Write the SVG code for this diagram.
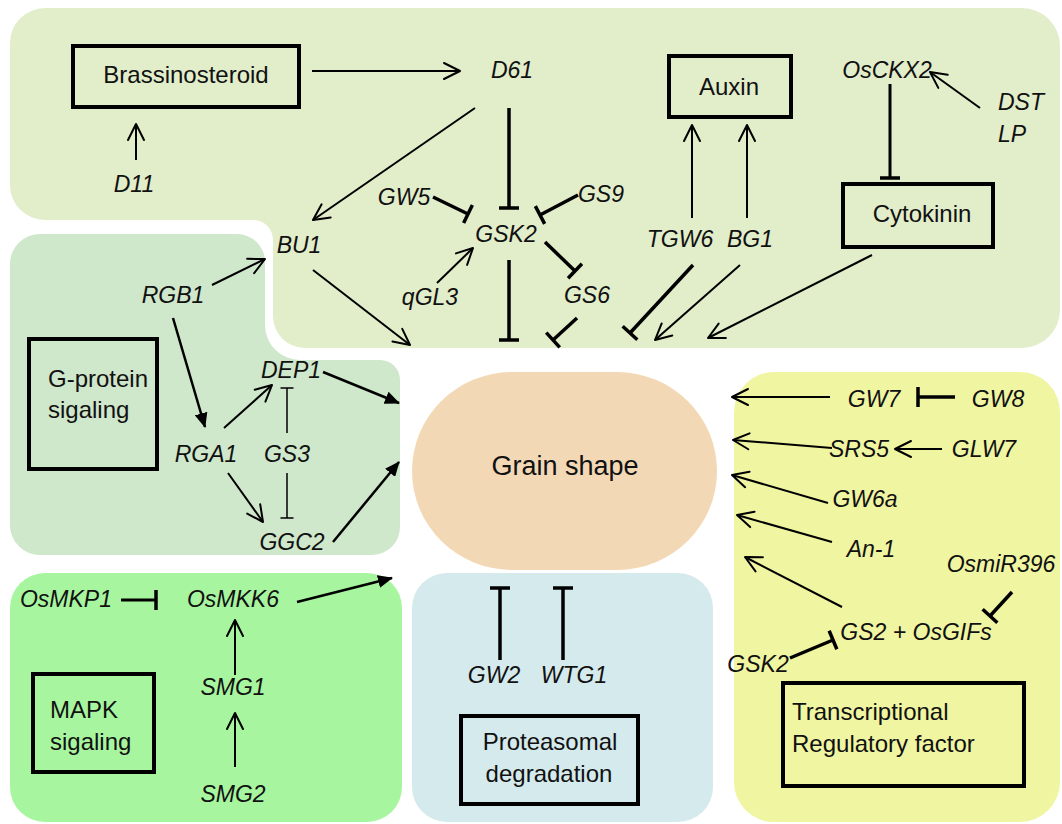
<svg xmlns="http://www.w3.org/2000/svg" width="1062" height="824" viewBox="0 0 1062 824">
<style>
.g{font-family:"Liberation Sans",Arial,sans-serif;font-style:italic;font-size:23px;fill:#111;text-anchor:middle}
.b{font-family:"Liberation Sans",Arial,sans-serif;font-size:24px;fill:#111}
.bc{text-anchor:middle}
.box{fill:none;stroke:#000;stroke-width:4}
.a{stroke:#000;stroke-width:2;fill:none;marker-end:url(#ao)}
.f{stroke:#000;stroke-width:2.5;fill:none;marker-end:url(#af)}
.t{stroke:#000;stroke-width:3.5;fill:none;marker-end:url(#tb)}
.ts{stroke:#000;stroke-width:1.5;fill:none;marker-end:url(#ts)}
</style>
<defs>
<marker id="ao" markerUnits="userSpaceOnUse" viewBox="-2 -2 20 20" markerWidth="20" markerHeight="20" refX="16" refY="8" orient="auto"><path d="M0,0 L16,8 L0,16" fill="none" stroke="#000" stroke-width="2" stroke-linejoin="round" stroke-linecap="round"/></marker>
<marker id="af" markerUnits="userSpaceOnUse" viewBox="0 0 15 13" markerWidth="15" markerHeight="13" refX="14" refY="6.5" orient="auto"><path d="M0,0 L15,6.5 L0,13 z" fill="#000"/></marker>
<marker id="tb" markerUnits="userSpaceOnUse" viewBox="-3 -12 6 24" markerWidth="6" markerHeight="24" refX="0" refY="0" orient="auto"><path d="M0,-10 V10" stroke="#000" stroke-width="3.5"/></marker>
<marker id="ts" markerUnits="userSpaceOnUse" viewBox="-2 -8 4 16" markerWidth="4" markerHeight="16" refX="0" refY="0" orient="auto"><path d="M0,-6.5 V6.5" stroke="#000" stroke-width="1.5"/></marker>
</defs>
<rect width="1062" height="824" fill="#fff"/>
<g id="regions">
<path id="region-top" d="M45,8 H1022 A38,38 0 0 1 1060,46 V310 A38,38 0 0 1 1022,348 H305 A32,32 0 0 1 273,316 V240 A20,20 0 0 0 253,220 H45 A35,35 0 0 1 10,185 V43 A35,35 0 0 1 45,8 Z" fill="#e2edca"/>
<path id="region-gprotein" d="M40,234 H237 A28,28 0 0 1 265,262 V325 A35,35 0 0 0 300,360 H380 A20,20 0 0 1 400,380 V527 A28,28 0 0 1 372,555 H40 A30,30 0 0 1 10,525 V264 A30,30 0 0 1 40,234 Z" fill="#cfe7cb"/>
<rect id="region-mapk" x="10" y="573" width="392" height="249" rx="35" fill="#a7f69f"/>
<rect id="region-proteasome" x="412" y="573" width="301" height="249" rx="35" fill="#d5eaec"/>
<rect id="region-tf" x="734" y="372" width="326" height="450" rx="40" fill="#f0f5a2"/>
</g>
<g id="grain-shape">
<rect x="412" y="372" width="305" height="198" rx="100" ry="99" fill="#f3d8b5"/>
<text class="b bc" x="565" y="475" style="font-size:27px">Grain shape</text>
</g>
<g id="connectors">
<line class="a" x1="136" y1="160" x2="136" y2="124"/>
<line class="a" x1="312" y1="71" x2="460" y2="71"/>
<line class="a" x1="475" y1="108" x2="313" y2="220"/>
<line class="t" x1="509" y1="108" x2="509" y2="208"/>
<line class="t" x1="433" y1="197" x2="468" y2="214"/>
<line class="t" x1="578" y1="195" x2="540" y2="215"/>
<line class="a" x1="437" y1="283" x2="473" y2="248"/>
<line class="t" x1="545" y1="242" x2="575" y2="271"/>
<line class="t" x1="509" y1="260" x2="509" y2="340"/>
<line class="t" x1="577" y1="318" x2="553" y2="340"/>
<line class="a" x1="313" y1="270" x2="410" y2="345"/>
<line class="a" x1="692" y1="218" x2="692" y2="125"/>
<line class="a" x1="747" y1="218" x2="747" y2="125"/>
<line class="t" x1="693" y1="265" x2="630" y2="333"/>
<line class="a" x1="740" y1="265" x2="655" y2="340"/>
<line class="a" x1="872" y1="255" x2="708" y2="338"/>
<line class="a" x1="980" y1="108" x2="930" y2="72"/>
<line class="t" x1="890" y1="84" x2="890" y2="178" style="stroke-width:3"/>
<line class="a" x1="212" y1="285" x2="265" y2="259"/>
<line class="f" x1="173" y1="318" x2="205" y2="427"/>
<line class="a" x1="224" y1="428" x2="272" y2="385"/>
<line class="ts" x1="287" y1="433" x2="287" y2="388"/>
<line class="ts" x1="287" y1="473" x2="287" y2="518"/>
<line class="a" x1="228" y1="473" x2="263" y2="522"/>
<line class="f" x1="323" y1="372" x2="399" y2="403"/>
<line class="f" x1="333" y1="542" x2="399" y2="462"/>
<line class="t" x1="121" y1="600" x2="156" y2="600" style="stroke-width:3"/>
<line class="f" x1="297" y1="602" x2="392" y2="578"/>
<line class="a" x1="235" y1="675" x2="235" y2="620"/>
<line class="a" x1="235" y1="767" x2="235" y2="713"/>
<line class="t" x1="500" y1="660" x2="500" y2="588"/>
<line class="t" x1="563" y1="660" x2="563" y2="588"/>
<line class="a" x1="830" y1="397" x2="732" y2="397"/>
<line class="t" x1="955" y1="397" x2="918" y2="397"/>
<line class="a" x1="832" y1="448" x2="733" y2="440"/>
<line class="a" x1="942" y1="449" x2="895" y2="449"/>
<line class="a" x1="828" y1="503" x2="732" y2="475"/>
<line class="a" x1="832" y1="542" x2="737" y2="515"/>
<line class="a" x1="842" y1="607" x2="745" y2="557"/>
<line class="t" x1="1012" y1="592" x2="990" y2="616"/>
<line class="t" x1="790" y1="658" x2="833" y2="640"/>
</g>
<g id="brassinosteroid"><rect class="box" x="73" y="46" width="226" height="61"/><text class="b bc" x="186" y="83">Brassinosteroid</text></g>
<g id="auxin"><rect class="box" x="669" y="56" width="122" height="61"/><text class="b bc" x="729" y="95">Auxin</text></g>
<g id="cytokinin"><rect class="box" x="843" y="184" width="150" height="63"/><text class="b bc" x="922" y="222">Cytokinin</text></g>
<g id="gprotein"><rect class="box" x="29" y="339" width="128" height="130"/><text class="b" x="48" y="387">G-protein</text><text class="b" x="48" y="418">sigaling</text></g>
<g id="mapk"><rect class="box" x="33" y="674" width="121" height="98"/><text class="b" x="50" y="718">MAPK</text><text class="b" x="50" y="750">sigaling</text></g>
<g id="proteasomal"><rect class="box" x="461" y="716" width="177" height="88"/><text class="b bc" x="550" y="750">Proteasomal</text><text class="b bc" x="549" y="782">degradation</text></g>
<g id="transcriptional"><rect class="box" x="783" y="683" width="241" height="103"/><text class="b" x="792" y="720">Transcriptional</text><text class="b" x="792" y="752">Regulatory factor</text></g>
<g id="D61"><text class="g" x="512" y="78">D61</text></g>
<g id="D11"><text class="g" x="134" y="192">D11</text></g>
<g id="GW5"><text class="g" x="404" y="205">GW5</text></g>
<g id="GS9"><text class="g" x="601" y="202">GS9</text></g>
<g id="GSK2"><text class="g" x="506" y="242">GSK2</text></g>
<g id="qGL3"><text class="g" x="430" y="305">qGL3</text></g>
<g id="GS6"><text class="g" x="587" y="303">GS6</text></g>
<g id="BU1"><text class="g" x="299" y="253">BU1</text></g>
<g id="TGW6"><text class="g" x="680" y="247">TGW6</text></g>
<g id="BG1"><text class="g" x="750" y="247">BG1</text></g>
<g id="OsCKX2"><text class="g" x="887" y="78">OsCKX2</text></g>
<g id="DST-LP"><text class="g" x="998" y="110" style="text-anchor:start">DST</text><text class="g" x="998" y="142" style="text-anchor:start">LP</text></g>
<g id="RGB1"><text class="g" x="173" y="303">RGB1</text></g>
<g id="RGA1"><text class="g" x="206" y="462">RGA1</text></g>
<g id="GS3"><text class="g" x="287" y="462">GS3</text></g>
<g id="DEP1"><text class="g" x="291" y="378">DEP1</text></g>
<g id="GGC2"><text class="g" x="292" y="550">GGC2</text></g>
<g id="OsMKP1"><text class="g" x="66" y="607">OsMKP1</text></g>
<g id="OsMKK6"><text class="g" x="233" y="607">OsMKK6</text></g>
<g id="SMG1"><text class="g" x="233" y="695">SMG1</text></g>
<g id="SMG2"><text class="g" x="233" y="802">SMG2</text></g>
<g id="GW2"><text class="g" x="494" y="683">GW2</text></g>
<g id="WTG1"><text class="g" x="574" y="683">WTG1</text></g>
<g id="GW7"><text class="g" x="874" y="407">GW7</text></g>
<g id="GW8"><text class="g" x="998" y="407">GW8</text></g>
<g id="SRS5"><text class="g" x="859" y="457">SRS5</text></g>
<g id="GLW7"><text class="g" x="984" y="457">GLW7</text></g>
<g id="GW6a"><text class="g" x="865" y="507">GW6a</text></g>
<g id="An-1"><text class="g" x="871" y="557">An-1</text></g>
<g id="OsmiR396"><text class="g" x="1001" y="572">OsmiR396</text></g>
<g id="GS2-OsGIFs"><text class="g" x="916" y="640">GS2 + OsGIFs</text></g>
<g id="GSK2-tf"><text class="g" x="758" y="672">GSK2</text></g>
</svg>
